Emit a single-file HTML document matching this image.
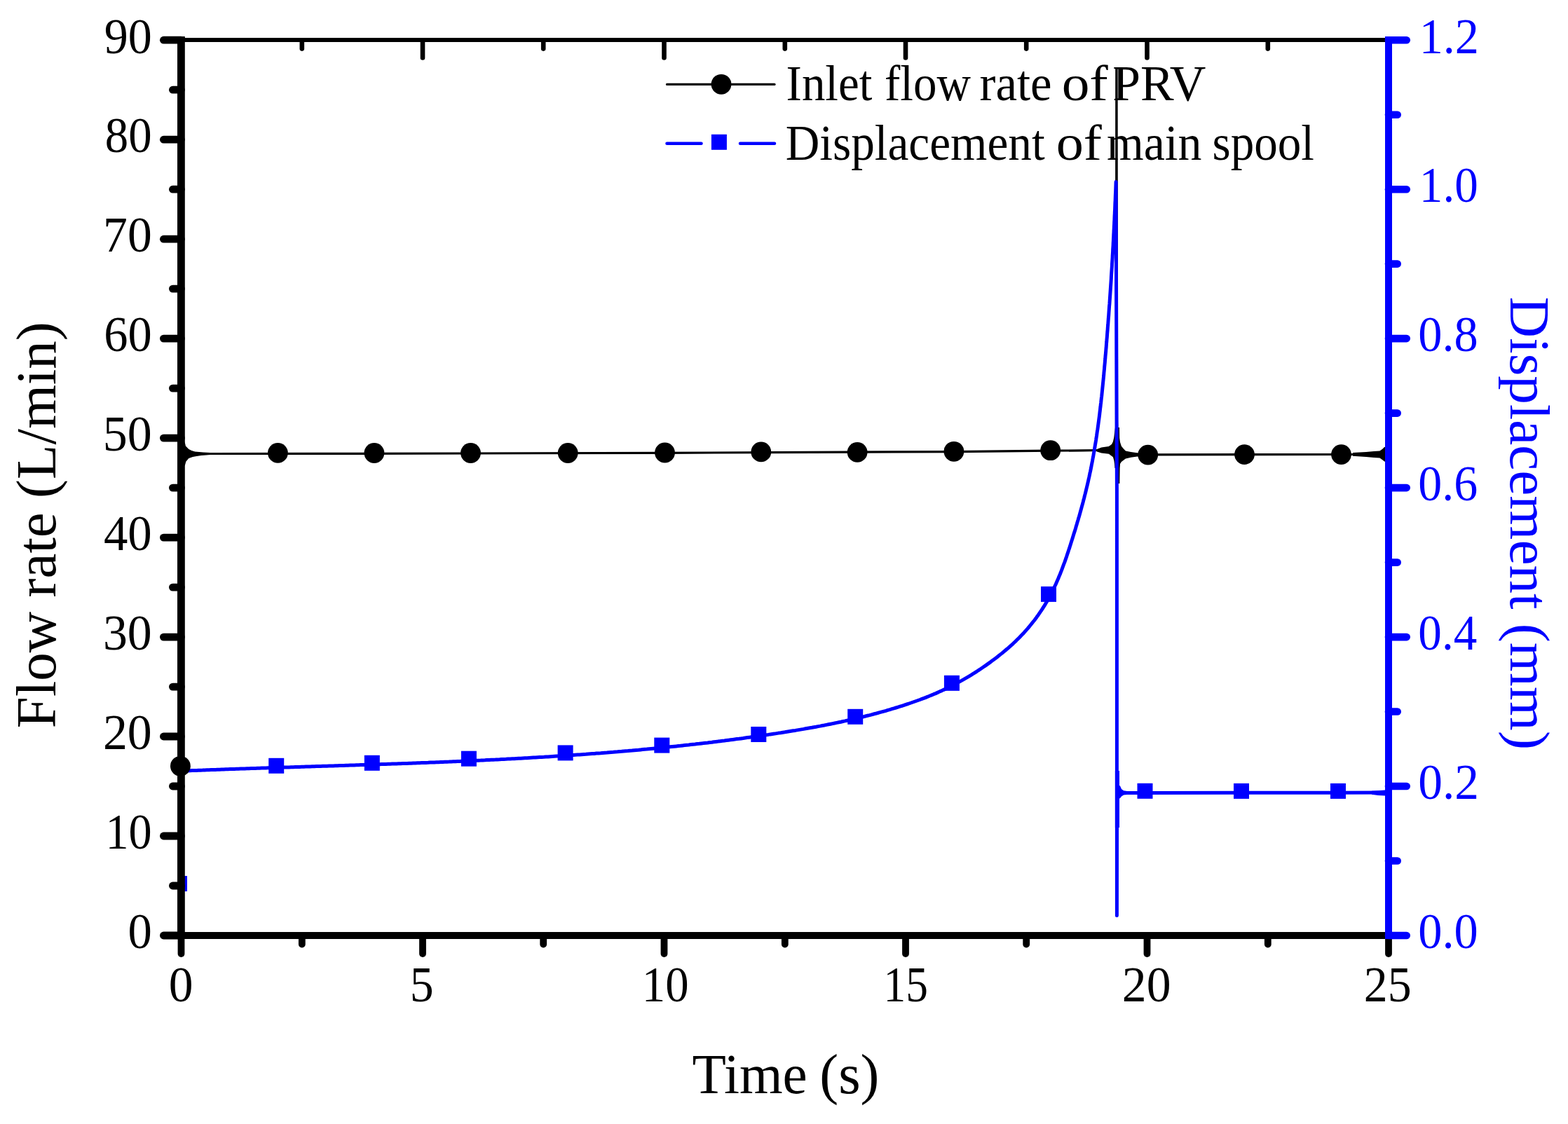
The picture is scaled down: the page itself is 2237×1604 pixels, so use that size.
<!DOCTYPE html><html><head><meta charset="utf-8"><style>html,body{margin:0;padding:0;background:#fff;}svg{display:block;}text{font-family:"Liberation Serif","Times New Roman",serif;}</style></head><body>
<svg width="2237" height="1604" viewBox="0 0 2237 1604">
<rect width="2237" height="1604" fill="#fff"/>
<polygon points="262.0,628.0 264.1,633.0 264.9,636.6 269.3,641.0 273.3,643.0 278.2,644.4 290.0,645.5 300.0,645.9 300.0,649.1 287.0,650.0 279.0,651.2 275.0,651.9 269.3,653.9 265.3,658.7 264.1,663.2 262.0,667.0" fill="#000"/>
<polyline points="262.0,647.6 300.0,647.5 460.0,647.4 672.0,647.0 948.0,646.3 1160.0,645.4 1360.9,644.6 1498.7,643.2 1545.0,642.9 1571.0,642.5" fill="none" stroke="#000" stroke-width="3.2" stroke-linejoin="round"/>
<polygon points="1565.0,641.1 1571.4,638.6 1581.9,637.0 1586.0,634.0 1587.9,630.2 1589.3,624.0 1590.0,618.0 1591.0,610.0 1597.0,610.0 1597.2,625.0 1598.0,631.0 1599.9,636.8 1603.0,640.5 1605.9,643.6 1613.4,645.1 1622.3,646.2 1626.0,646.5 1626.0,651.5 1622.3,651.5 1613.4,652.7 1605.9,654.5 1599.9,659.0 1598.0,662.0 1597.0,668.0 1590.5,668.0 1590.0,662.0 1589.3,657.0 1587.9,652.2 1581.9,647.8 1571.4,646.6 1565.0,644.4" fill="#000"/>
<polyline points="1592.6,640 1592.9,96.5 1593.4,600 1595.6,690 1596,660" fill="none" stroke="#000" stroke-width="3.4" stroke-linejoin="miter" stroke-miterlimit="2"/>
<polyline points="1622.0,648.9 1775.5,648.6 1913.5,648.5 1950.0,648.5 1976.0,648.5" fill="none" stroke="#000" stroke-width="3.2"/>
<polygon points="1930.0,646.1 1949.0,645.1 1960.0,644.1 1968.4,643.5 1972.0,641.0 1975.0,638.0 1978.0,637.5 1978.0,659.0 1975.0,658.5 1972.0,656.0 1968.4,653.5 1960.0,653.0 1949.0,652.0 1930.0,650.8" fill="#000"/>
<polyline points="262.0,1100.1 265.1,1100.0 268.1,1099.9 271.1,1099.8 274.1,1099.6 277.1,1099.5 280.1,1099.4 283.1,1099.3 286.1,1099.2 289.1,1099.1 292.1,1098.9 295.1,1098.8 298.1,1098.7 301.1,1098.6 304.1,1098.5 307.1,1098.4 310.1,1098.3 313.1,1098.2 316.1,1098.1 319.1,1098.0 322.1,1097.8 325.2,1097.7 328.2,1097.6 331.2,1097.5 334.2,1097.4 337.2,1097.3 340.2,1097.2 343.2,1097.1 346.2,1097.0 349.2,1096.9 352.2,1096.8 355.2,1096.7 358.2,1096.6 361.2,1096.5 364.2,1096.4 367.2,1096.3 370.2,1096.2 373.2,1096.1 376.2,1096.0 379.3,1095.9 382.3,1095.8 385.3,1095.7 388.3,1095.6 391.3,1095.5 394.3,1095.4 397.3,1095.3 400.3,1095.2 403.3,1095.1 406.3,1095.0 409.3,1094.9 412.3,1094.9 415.3,1094.8 418.3,1094.7 421.3,1094.6 424.3,1094.5 427.3,1094.4 430.3,1094.3 433.4,1094.2 436.4,1094.1 439.4,1094.0 442.4,1093.9 445.4,1093.8 448.4,1093.7 451.4,1093.6 454.4,1093.5 457.4,1093.4 460.4,1093.3 463.4,1093.3 466.4,1093.2 469.4,1093.1 472.4,1093.0 475.4,1092.9 478.4,1092.8 481.4,1092.7 484.5,1092.6 487.5,1092.5 490.5,1092.4 493.5,1092.3 496.5,1092.2 499.5,1092.1 502.5,1092.0 505.5,1091.9 508.5,1091.8 511.5,1091.7 514.5,1091.6 517.5,1091.5 520.5,1091.4 523.5,1091.3 526.5,1091.2 529.5,1091.1 532.5,1091.0 535.5,1090.9 538.6,1090.8 541.6,1090.7 544.6,1090.6 547.6,1090.5 550.6,1090.4 553.6,1090.3 556.6,1090.2 559.6,1090.1 562.6,1090.0 565.6,1089.9 568.6,1089.8 571.6,1089.7 574.6,1089.6 577.6,1089.5 580.6,1089.4 583.6,1089.3 586.6,1089.2 589.6,1089.0 592.6,1088.9 595.7,1088.8 598.7,1088.7 601.7,1088.6 604.7,1088.5 607.7,1088.4 610.7,1088.3 613.7,1088.1 616.7,1088.0 619.7,1087.9 622.7,1087.8 625.7,1087.7 628.7,1087.5 631.7,1087.4 634.7,1087.3 637.7,1087.2 640.7,1087.1 643.7,1086.9 646.7,1086.8 649.7,1086.7 652.7,1086.5 655.7,1086.4 658.8,1086.3 661.8,1086.2 664.8,1086.0 667.8,1085.9 670.8,1085.8 673.8,1085.6 676.8,1085.5 679.8,1085.3 682.8,1085.2 685.8,1085.1 688.8,1084.9 691.8,1084.8 694.8,1084.6 697.8,1084.5 700.8,1084.3 703.8,1084.2 706.8,1084.1 709.8,1083.9 712.8,1083.8 715.8,1083.6 718.8,1083.4 721.8,1083.3 724.8,1083.1 727.8,1083.0 730.8,1082.8 733.8,1082.7 736.8,1082.5 739.8,1082.3 742.9,1082.2 745.9,1082.0 748.9,1081.8 751.9,1081.7 754.9,1081.5 757.9,1081.3 760.9,1081.1 763.9,1081.0 766.9,1080.8 769.9,1080.6 772.9,1080.4 775.9,1080.3 778.9,1080.1 781.9,1079.9 784.9,1079.7 787.9,1079.5 790.9,1079.3 793.9,1079.1 796.9,1078.9 799.9,1078.7 802.9,1078.5 805.9,1078.3 808.9,1078.1 811.9,1077.9 814.9,1077.7 817.9,1077.5 820.9,1077.3 823.9,1077.1 826.9,1076.9 829.9,1076.7 832.9,1076.5 835.9,1076.3 838.9,1076.0 841.9,1075.8 844.9,1075.6 847.9,1075.4 850.9,1075.1 853.9,1074.9 856.9,1074.7 859.9,1074.4 862.9,1074.2 865.9,1074.0 868.9,1073.7 871.9,1073.5 874.9,1073.3 877.9,1073.0 880.9,1072.8 883.9,1072.5 886.8,1072.3 889.8,1072.0 892.8,1071.7 895.8,1071.5 898.8,1071.2 901.8,1071.0 904.8,1070.7 907.8,1070.4 910.8,1070.2 913.8,1069.9 916.8,1069.6 919.8,1069.3 922.8,1069.1 925.8,1068.8 928.8,1068.5 931.8,1068.2 934.8,1067.9 937.8,1067.6 940.8,1067.3 943.7,1067.0 946.7,1066.7 949.7,1066.4 952.7,1066.1 955.7,1065.8 958.7,1065.5 961.7,1065.2 964.7,1064.9 967.7,1064.6 970.7,1064.3 973.7,1063.9 976.6,1063.6 979.6,1063.3 982.6,1063.0 985.6,1062.6 988.6,1062.3 991.6,1062.0 994.6,1061.6 997.6,1061.3 1000.6,1060.9 1003.5,1060.6 1006.5,1060.2 1009.5,1059.9 1012.5,1059.5 1015.5,1059.2 1018.5,1058.8 1021.5,1058.4 1024.4,1058.1 1027.4,1057.7 1030.4,1057.3 1033.4,1057.0 1036.4,1056.6 1039.4,1056.2 1042.3,1055.8 1045.3,1055.4 1048.3,1055.0 1051.3,1054.6 1054.3,1054.3 1057.2,1053.9 1060.2,1053.5 1063.2,1053.0 1066.2,1052.6 1069.2,1052.2 1072.1,1051.8 1075.1,1051.4 1078.1,1051.0 1081.1,1050.6 1084.1,1050.1 1087.0,1049.7 1090.0,1049.3 1093.0,1048.8 1096.0,1048.4 1098.9,1047.9 1101.9,1047.5 1104.9,1047.1 1107.9,1046.6 1110.8,1046.1 1113.8,1045.7 1116.8,1045.2 1119.7,1044.8 1122.7,1044.3 1125.7,1043.8 1128.6,1043.3 1131.6,1042.8 1134.6,1042.4 1137.5,1041.9 1140.5,1041.4 1143.5,1040.9 1146.4,1040.4 1149.4,1039.8 1152.4,1039.3 1155.3,1038.8 1158.3,1038.3 1161.2,1037.7 1164.2,1037.2 1167.2,1036.6 1170.1,1036.1 1173.1,1035.5 1176.0,1035.0 1179.0,1034.4 1181.9,1033.8 1184.9,1033.2 1187.8,1032.6 1190.8,1032.0 1193.7,1031.4 1196.7,1030.8 1199.6,1030.2 1202.5,1029.5 1205.5,1028.9 1208.4,1028.2 1211.3,1027.6 1214.3,1026.9 1217.2,1026.3 1220.1,1025.6 1223.1,1024.9 1226.0,1024.2 1228.9,1023.5 1231.8,1022.8 1234.8,1022.0 1237.7,1021.3 1240.6,1020.6 1243.5,1019.8 1246.4,1019.0 1249.3,1018.3 1252.2,1017.5 1255.1,1016.7 1258.0,1015.9 1260.9,1015.1 1263.8,1014.3 1266.7,1013.4 1269.6,1012.6 1272.5,1011.7 1275.3,1010.9 1278.2,1010.0 1281.1,1009.1 1284.0,1008.2 1286.8,1007.3 1289.7,1006.4 1292.5,1005.4 1295.4,1004.5 1298.2,1003.5 1301.1,1002.5 1303.9,1001.5 1306.8,1000.5 1309.6,999.5 1312.4,998.5 1315.2,997.4 1318.0,996.4 1320.8,995.3 1323.6,994.2 1326.4,993.0 1329.2,991.9 1332.0,990.7 1334.8,989.6 1337.5,988.4 1340.3,987.1 1343.0,985.9 1345.7,984.6 1348.5,983.4 1351.2,982.1 1353.9,980.7 1356.6,979.4 1359.2,978.0 1361.9,976.6 1364.6,975.2 1367.2,973.8 1369.8,972.4 1372.5,970.9 1375.1,969.4 1377.7,967.9 1380.3,966.4 1382.9,964.8 1385.4,963.3 1388.0,961.7 1390.5,960.1 1393.1,958.5 1395.6,956.8 1398.1,955.2 1400.6,953.5 1403.1,951.8 1405.6,950.1 1408.0,948.4 1410.5,946.6 1412.9,944.9 1415.3,943.1 1417.8,941.3 1420.2,939.5 1422.5,937.7 1424.9,935.8 1427.3,933.9 1429.6,932.1 1431.9,930.1 1434.2,928.2 1436.5,926.3 1438.8,924.3 1441.0,922.3 1443.3,920.3 1445.5,918.3 1447.7,916.2 1449.9,914.1 1452.0,912.0 1454.1,909.9 1456.2,907.7 1458.3,905.6 1460.4,903.4 1462.4,901.1 1464.4,898.9 1466.4,896.6 1468.3,894.3 1470.2,892.0 1472.1,889.7 1474.0,887.3 1475.9,885.0 1477.7,882.6 1479.4,880.1 1481.2,877.7 1482.9,875.2 1484.6,872.7 1486.3,870.2 1487.9,867.7 1489.5,865.2 1491.1,862.6 1492.6,860.0 1494.1,857.4 1495.6,854.8 1497.0,852.2 1498.5,849.5 1499.8,846.8 1501.2,844.2 1502.5,841.5 1503.8,838.8 1505.1,836.0 1506.4,833.3 1507.6,830.5 1508.8,827.8 1510.0,825.0 1511.1,822.2 1512.3,819.5 1513.4,816.7 1514.5,813.9 1515.5,811.1 1516.6,808.2 1517.6,805.4 1518.7,802.6 1519.7,799.8 1520.7,796.9 1521.7,794.1 1522.6,791.2 1523.6,788.4 1524.5,785.5 1525.5,782.7 1526.4,779.8 1527.3,777.0 1528.2,774.1 1529.1,771.2 1530.0,768.4 1530.9,765.5 1531.8,762.6 1532.7,759.7 1533.6,756.9 1534.5,754.0 1535.3,751.1 1536.2,748.2 1537.0,745.3 1537.9,742.5 1538.7,739.6 1539.6,736.7 1540.4,733.8 1541.2,730.9 1542.0,728.0 1542.8,725.1 1543.6,722.2 1544.4,719.3 1545.2,716.4 1545.9,713.5 1546.7,710.6 1547.4,707.7 1548.2,704.7 1548.9,701.8 1549.6,698.9 1550.3,696.0 1551.0,693.1 1551.7,690.1 1552.4,687.2 1553.0,684.3 1553.7,681.3 1554.3,678.4 1554.9,675.4 1555.6,672.5 1556.2,669.6 1556.8,666.6 1557.3,663.7 1557.9,660.7 1558.5,657.7 1559.0,654.8 1559.6,651.8 1560.1,648.9 1560.6,645.9 1561.1,642.9 1561.6,640.0 1562.1,637.0 1562.6,634.0 1563.1,631.1 1563.6,628.1 1564.0,625.1 1564.5,622.2 1564.9,619.2 1565.3,616.2 1565.8,613.2 1566.2,610.3 1566.6,607.3 1567.0,604.3 1567.4,601.3 1567.8,598.3 1568.2,595.4 1568.6,592.4 1568.9,589.4 1569.3,586.4 1569.6,583.4 1570.0,580.4 1570.3,577.4 1570.7,574.5 1571.0,571.5 1571.3,568.5 1571.7,565.5 1572.0,562.5 1572.3,559.5 1572.6,556.5 1572.9,553.5 1573.2,550.5 1573.5,547.5 1573.8,544.5 1574.1,541.6 1574.4,538.6 1574.7,535.6 1574.9,532.6 1575.2,529.6 1575.5,526.6 1575.7,523.6 1576.0,520.6 1576.3,517.6 1576.5,514.6 1576.8,511.6 1577.0,508.6 1577.3,505.6 1577.6,502.6 1577.8,499.6 1578.1,496.6 1578.3,493.6 1578.5,490.6 1578.8,487.6 1579.0,484.6 1579.3,481.6 1579.5,478.6 1579.7,475.6 1580.0,472.6 1580.2,469.6 1580.4,466.6 1580.7,463.6 1580.9,460.6 1581.1,457.6 1581.3,454.6 1581.6,451.6 1581.8,448.7 1582.0,445.7 1582.2,442.7 1582.4,439.7 1582.6,436.7 1582.9,433.7 1583.1,430.7 1583.3,427.7 1583.5,424.7 1583.7,421.7 1583.9,418.7 1584.1,415.7 1584.3,412.7 1584.5,409.7 1584.7,406.7 1584.9,403.6 1585.1,400.6 1585.3,397.6 1585.4,394.6 1585.6,391.6 1585.8,388.6 1586.0,385.6 1586.2,382.6 1586.4,379.6 1586.5,376.6 1586.7,373.6 1586.9,370.6 1587.1,367.6 1587.2,364.6 1587.4,361.6 1587.6,358.6 1587.7,355.6 1587.9,352.6 1588.1,349.6 1588.2,346.6 1588.4,343.6 1588.5,340.6 1588.7,337.6 1588.8,334.6 1589.0,331.6 1589.1,328.6 1589.3,325.6 1589.4,322.6 1589.6,319.6 1589.7,316.6 1589.9,313.6 1590.0,310.6 1590.1,307.6 1590.3,304.6 1590.4,301.6 1590.6,298.6 1590.7,295.5 1590.8,292.5 1590.9,289.5 1591.1,286.5 1591.2,283.5 1591.3,280.5 1591.4,277.5 1591.6,274.5 1591.7,271.5 1591.8,268.5 1591.9,265.5 1592.0,262.5 1592.1,259.5 1593.4,700.0 1593.4,1306.5 1593.6,1135.0 1597.0,1131.5 1633.5,1131.4 1771.0,1131.3 1909.0,1131.3 1976.0,1131.0" fill="none" stroke="#00f" stroke-width="5" stroke-linejoin="round"/>
<rect x="1590.9" y="1100" width="6.1" height="81" fill="#00f"/>
<polygon points="1596.0,1120.5 1598.0,1121.5 1600.0,1126.0 1603.0,1128.3 1608.0,1129.0 1608.0,1134.0 1603.0,1134.6 1600.0,1136.5 1598.0,1139.0 1596.0,1140.0" fill="#00f"/>
<polygon points="1957.0,1128.8 1966.0,1128.3 1976.0,1127.6 1976.0,1135.4 1966.0,1135.0 1957.0,1133.7" fill="#00f"/>
<rect x="258.5" y="1250" width="8.5" height="22" fill="#00f"/>
<rect x="383.2" y="1081.8" width="22" height="22" fill="#00f"/>
<rect x="519.8" y="1077.8" width="22" height="22" fill="#00f"/>
<rect x="657.9" y="1071.7" width="22" height="22" fill="#00f"/>
<rect x="795.6" y="1063.4" width="22" height="22" fill="#00f"/>
<rect x="933.3" y="1052.6" width="22" height="22" fill="#00f"/>
<rect x="1071.3" y="1037.0" width="22" height="22" fill="#00f"/>
<rect x="1209.2" y="1011.8" width="22" height="22" fill="#00f"/>
<rect x="1346.9" y="963.8" width="22" height="22" fill="#00f"/>
<rect x="1485.0" y="836.9" width="22" height="22" fill="#00f"/>
<rect x="1622.5" y="1117.8" width="22" height="22" fill="#00f"/>
<rect x="1760.0" y="1117.9" width="22" height="22" fill="#00f"/>
<rect x="1898.0" y="1117.9" width="22" height="22" fill="#00f"/>
<circle cx="257.4" cy="1093.3" r="14.4" fill="#000"/>
<circle cx="396.4" cy="646.4" r="14.4" fill="#000"/>
<circle cx="533.9" cy="646.5" r="14.4" fill="#000"/>
<circle cx="671.5" cy="646.5" r="14.4" fill="#000"/>
<circle cx="810.2" cy="646.5" r="14.4" fill="#000"/>
<circle cx="948.5" cy="646.0" r="14.4" fill="#000"/>
<circle cx="1085.8" cy="644.9" r="14.4" fill="#000"/>
<circle cx="1223.1" cy="645.4" r="14.4" fill="#000"/>
<circle cx="1360.9" cy="644.3" r="14.4" fill="#000"/>
<circle cx="1498.7" cy="642.7" r="14.4" fill="#000"/>
<circle cx="1637.7" cy="649.1" r="14.4" fill="#000"/>
<circle cx="1775.5" cy="648.6" r="14.4" fill="#000"/>
<circle cx="1913.5" cy="648.6" r="14.4" fill="#000"/>
<line x1="253" y1="57" x2="1981" y2="57" stroke="#000" stroke-width="5.8"/>
<line x1="430.8" y1="58" x2="430.8" y2="69.6" stroke="#000" stroke-width="6.6" stroke-linecap="round"/>
<line x1="603.0" y1="58" x2="603.0" y2="82.5" stroke="#000" stroke-width="6.6" stroke-linecap="round"/>
<line x1="775.2" y1="58" x2="775.2" y2="69.6" stroke="#000" stroke-width="6.6" stroke-linecap="round"/>
<line x1="947.5" y1="58" x2="947.5" y2="82.5" stroke="#000" stroke-width="6.6" stroke-linecap="round"/>
<line x1="1119.8" y1="58" x2="1119.8" y2="69.6" stroke="#000" stroke-width="6.6" stroke-linecap="round"/>
<line x1="1292.0" y1="58" x2="1292.0" y2="82.5" stroke="#000" stroke-width="6.6" stroke-linecap="round"/>
<line x1="1464.2" y1="58" x2="1464.2" y2="69.6" stroke="#000" stroke-width="6.6" stroke-linecap="round"/>
<line x1="1636.5" y1="58" x2="1636.5" y2="82.5" stroke="#000" stroke-width="6.6" stroke-linecap="round"/>
<line x1="1808.8" y1="58" x2="1808.8" y2="69.6" stroke="#000" stroke-width="6.6" stroke-linecap="round"/>
<line x1="253" y1="1335" x2="1986" y2="1335" stroke="#000" stroke-width="10"/>
<line x1="258.5" y1="1335" x2="258.5" y2="1361.1" stroke="#000" stroke-width="9.8" stroke-linecap="round"/>
<line x1="430.8" y1="1335" x2="430.8" y2="1347.6" stroke="#000" stroke-width="9.8" stroke-linecap="round"/>
<line x1="603.0" y1="1335" x2="603.0" y2="1361.1" stroke="#000" stroke-width="9.8" stroke-linecap="round"/>
<line x1="775.2" y1="1335" x2="775.2" y2="1347.6" stroke="#000" stroke-width="9.8" stroke-linecap="round"/>
<line x1="947.5" y1="1335" x2="947.5" y2="1361.1" stroke="#000" stroke-width="9.8" stroke-linecap="round"/>
<line x1="1119.8" y1="1335" x2="1119.8" y2="1347.6" stroke="#000" stroke-width="9.8" stroke-linecap="round"/>
<line x1="1292.0" y1="1335" x2="1292.0" y2="1361.1" stroke="#000" stroke-width="9.8" stroke-linecap="round"/>
<line x1="1464.2" y1="1335" x2="1464.2" y2="1347.6" stroke="#000" stroke-width="9.8" stroke-linecap="round"/>
<line x1="1636.5" y1="1335" x2="1636.5" y2="1361.1" stroke="#000" stroke-width="9.8" stroke-linecap="round"/>
<line x1="1808.8" y1="1335" x2="1808.8" y2="1347.6" stroke="#000" stroke-width="9.8" stroke-linecap="round"/>
<line x1="1981.0" y1="1335" x2="1981.0" y2="1361.1" stroke="#000" stroke-width="9.8" stroke-linecap="round"/>
<line x1="258.4" y1="51.9" x2="258.4" y2="1340" stroke="#000" stroke-width="10.8"/>
<line x1="258.4" y1="1335.0" x2="233.4" y2="1335.0" stroke="#000" stroke-width="10.8" stroke-linecap="round"/>
<line x1="258.4" y1="1264.0" x2="246.4" y2="1264.0" stroke="#000" stroke-width="10.8" stroke-linecap="round"/>
<line x1="258.4" y1="1193.0" x2="233.4" y2="1193.0" stroke="#000" stroke-width="10.8" stroke-linecap="round"/>
<line x1="258.4" y1="1122.0" x2="246.4" y2="1122.0" stroke="#000" stroke-width="10.8" stroke-linecap="round"/>
<line x1="258.4" y1="1051.0" x2="233.4" y2="1051.0" stroke="#000" stroke-width="10.8" stroke-linecap="round"/>
<line x1="258.4" y1="980.1" x2="246.4" y2="980.1" stroke="#000" stroke-width="10.8" stroke-linecap="round"/>
<line x1="258.4" y1="909.1" x2="233.4" y2="909.1" stroke="#000" stroke-width="10.8" stroke-linecap="round"/>
<line x1="258.4" y1="838.1" x2="246.4" y2="838.1" stroke="#000" stroke-width="10.8" stroke-linecap="round"/>
<line x1="258.4" y1="767.1" x2="233.4" y2="767.1" stroke="#000" stroke-width="10.8" stroke-linecap="round"/>
<line x1="258.4" y1="696.1" x2="246.4" y2="696.1" stroke="#000" stroke-width="10.8" stroke-linecap="round"/>
<line x1="258.4" y1="625.1" x2="233.4" y2="625.1" stroke="#000" stroke-width="10.8" stroke-linecap="round"/>
<line x1="258.4" y1="554.1" x2="246.4" y2="554.1" stroke="#000" stroke-width="10.8" stroke-linecap="round"/>
<line x1="258.4" y1="483.1" x2="233.4" y2="483.1" stroke="#000" stroke-width="10.8" stroke-linecap="round"/>
<line x1="258.4" y1="412.1" x2="246.4" y2="412.1" stroke="#000" stroke-width="10.8" stroke-linecap="round"/>
<line x1="258.4" y1="341.2" x2="233.4" y2="341.2" stroke="#000" stroke-width="10.8" stroke-linecap="round"/>
<line x1="258.4" y1="270.2" x2="246.4" y2="270.2" stroke="#000" stroke-width="10.8" stroke-linecap="round"/>
<line x1="258.4" y1="199.2" x2="233.4" y2="199.2" stroke="#000" stroke-width="10.8" stroke-linecap="round"/>
<line x1="258.4" y1="128.2" x2="246.4" y2="128.2" stroke="#000" stroke-width="10.8" stroke-linecap="round"/>
<line x1="258.4" y1="57.2" x2="233.4" y2="57.2" stroke="#000" stroke-width="10.8" stroke-linecap="round"/>
<line x1="1981" y1="51.9" x2="1981" y2="1340" stroke="#00f" stroke-width="10"/>
<line x1="1981" y1="1335.0" x2="2006.7" y2="1335.0" stroke="#00f" stroke-width="10.6" stroke-linecap="round"/>
<line x1="1981" y1="1228.5" x2="1993.7" y2="1228.5" stroke="#00f" stroke-width="10.6" stroke-linecap="round"/>
<line x1="1981" y1="1122.0" x2="2006.7" y2="1122.0" stroke="#00f" stroke-width="10.6" stroke-linecap="round"/>
<line x1="1981" y1="1015.5" x2="1993.7" y2="1015.5" stroke="#00f" stroke-width="10.6" stroke-linecap="round"/>
<line x1="1981" y1="909.1" x2="2006.7" y2="909.1" stroke="#00f" stroke-width="10.6" stroke-linecap="round"/>
<line x1="1981" y1="802.6" x2="1993.7" y2="802.6" stroke="#00f" stroke-width="10.6" stroke-linecap="round"/>
<line x1="1981" y1="696.1" x2="2006.7" y2="696.1" stroke="#00f" stroke-width="10.6" stroke-linecap="round"/>
<line x1="1981" y1="589.6" x2="1993.7" y2="589.6" stroke="#00f" stroke-width="10.6" stroke-linecap="round"/>
<line x1="1981" y1="483.1" x2="2006.7" y2="483.1" stroke="#00f" stroke-width="10.6" stroke-linecap="round"/>
<line x1="1981" y1="376.6" x2="1993.7" y2="376.6" stroke="#00f" stroke-width="10.6" stroke-linecap="round"/>
<line x1="1981" y1="270.2" x2="2006.7" y2="270.2" stroke="#00f" stroke-width="10.6" stroke-linecap="round"/>
<line x1="1981" y1="163.7" x2="1993.7" y2="163.7" stroke="#00f" stroke-width="10.6" stroke-linecap="round"/>
<line x1="1981" y1="57.2" x2="2006.7" y2="57.2" stroke="#00f" stroke-width="10.6" stroke-linecap="round"/>
<text x="182.39" y="1353.30" font-size="72.4" textLength="34.33" lengthAdjust="spacingAndGlyphs">0</text>
<text x="150.38" y="1211.32" font-size="72.4" textLength="66.25" lengthAdjust="spacingAndGlyphs">10</text>
<text x="146.93" y="1069.34" font-size="72.4" textLength="69.83" lengthAdjust="spacingAndGlyphs">20</text>
<text x="146.96" y="927.37" font-size="72.4" textLength="69.80" lengthAdjust="spacingAndGlyphs">30</text>
<text x="147.96" y="785.39" font-size="72.4" textLength="68.76" lengthAdjust="spacingAndGlyphs">40</text>
<text x="146.84" y="643.41" font-size="72.4" textLength="69.93" lengthAdjust="spacingAndGlyphs">50</text>
<text x="148.26" y="501.43" font-size="72.4" textLength="68.45" lengthAdjust="spacingAndGlyphs">60</text>
<text x="147.11" y="359.46" font-size="72.4" textLength="69.64" lengthAdjust="spacingAndGlyphs">70</text>
<text x="149.86" y="217.48" font-size="72.4" textLength="66.79" lengthAdjust="spacingAndGlyphs">80</text>
<text x="148.71" y="75.50" font-size="72.4" textLength="67.98" lengthAdjust="spacingAndGlyphs">90</text>
<text x="240.85" y="1429.30" font-size="72.4" textLength="34.80" lengthAdjust="spacingAndGlyphs">0</text>
<text x="584.86" y="1429.30" font-size="72.4" textLength="33.89" lengthAdjust="spacingAndGlyphs">5</text>
<text x="915.83" y="1429.30" font-size="72.4" textLength="66.82" lengthAdjust="spacingAndGlyphs">10</text>
<text x="1260.53" y="1429.30" font-size="72.4" textLength="63.34" lengthAdjust="spacingAndGlyphs">15</text>
<text x="1600.84" y="1429.30" font-size="72.4" textLength="69.72" lengthAdjust="spacingAndGlyphs">20</text>
<text x="1945.82" y="1429.30" font-size="72.4" textLength="67.83" lengthAdjust="spacingAndGlyphs">25</text>
<text x="2023.29" y="1353.30" font-size="72.4" textLength="85.51" lengthAdjust="spacingAndGlyphs" fill="#00f">0.0</text>
<text x="2023.26" y="1140.33" font-size="72.4" textLength="86.77" lengthAdjust="spacingAndGlyphs" fill="#00f">0.2</text>
<text x="2023.34" y="927.37" font-size="72.4" textLength="83.91" lengthAdjust="spacingAndGlyphs" fill="#00f">0.4</text>
<text x="2023.31" y="714.40" font-size="72.4" textLength="84.91" lengthAdjust="spacingAndGlyphs" fill="#00f">0.6</text>
<text x="2023.29" y="501.43" font-size="72.4" textLength="85.51" lengthAdjust="spacingAndGlyphs" fill="#00f">0.8</text>
<text x="2024.80" y="288.47" font-size="72.4" textLength="83.96" lengthAdjust="spacingAndGlyphs" fill="#00f">1.0</text>
<text x="2024.71" y="75.50" font-size="72.4" textLength="85.26" lengthAdjust="spacingAndGlyphs" fill="#00f">1.2</text>
<text transform="translate(78.8,1036.8) rotate(-90)" x="-2.33" y="0.00" font-size="81.0" textLength="579.89" lengthAdjust="spacingAndGlyphs">Flow rate (L/min)</text>
<text x="987.39" y="1560.10" font-size="81.1" textLength="164.31" lengthAdjust="spacingAndGlyphs">Time</text>
<text x="1169.25" y="1560.10" font-size="81.1" textLength="85.20" lengthAdjust="spacingAndGlyphs">(s)</text>
<text transform="translate(2155.2,425.9) rotate(90)" x="-2.34" y="0.00" font-size="80.8" textLength="646.40" lengthAdjust="spacingAndGlyphs" fill="#00f">Displacement (mm)</text>
<line x1="951.5" y1="120.45" x2="1105" y2="120.45" stroke="#000" stroke-width="3.2" stroke-linecap="round"/>
<circle cx="1029" cy="120.3" r="14.4" fill="#000"/>
<line x1="951.5" y1="204.8" x2="1000.5" y2="204.8" stroke="#00f" stroke-width="4.5" stroke-linecap="round"/>
<line x1="1056" y1="204.8" x2="1105" y2="204.8" stroke="#00f" stroke-width="4.5" stroke-linecap="round"/>
<rect x="1014.9" y="191.8" width="22" height="22" fill="#00f"/>
<text x="1121.58" y="142.60" font-size="71.0" textLength="122.71" lengthAdjust="spacingAndGlyphs">Inlet</text>
<text x="1261.94" y="142.60" font-size="71.0" textLength="122.86" lengthAdjust="spacingAndGlyphs">flow</text>
<text x="1397.52" y="142.60" font-size="71.0" textLength="103.06" lengthAdjust="spacingAndGlyphs">rate</text>
<text x="1514.68" y="142.60" font-size="71.0" textLength="66.12" lengthAdjust="spacingAndGlyphs">of</text>
<text x="1587.13" y="142.60" font-size="71.0" textLength="133.34" lengthAdjust="spacingAndGlyphs">PRV</text>
<text x="1120.76" y="227.60" font-size="71.0" textLength="369.83" lengthAdjust="spacingAndGlyphs">Displacement</text>
<text x="1506.72" y="227.60" font-size="71.0" textLength="65.18" lengthAdjust="spacingAndGlyphs">of</text>
<text x="1578.88" y="227.60" font-size="71.0" textLength="135.65" lengthAdjust="spacingAndGlyphs">main</text>
<text x="1729.55" y="227.60" font-size="71.0" textLength="145.29" lengthAdjust="spacingAndGlyphs">spool</text>
</svg></body></html>
